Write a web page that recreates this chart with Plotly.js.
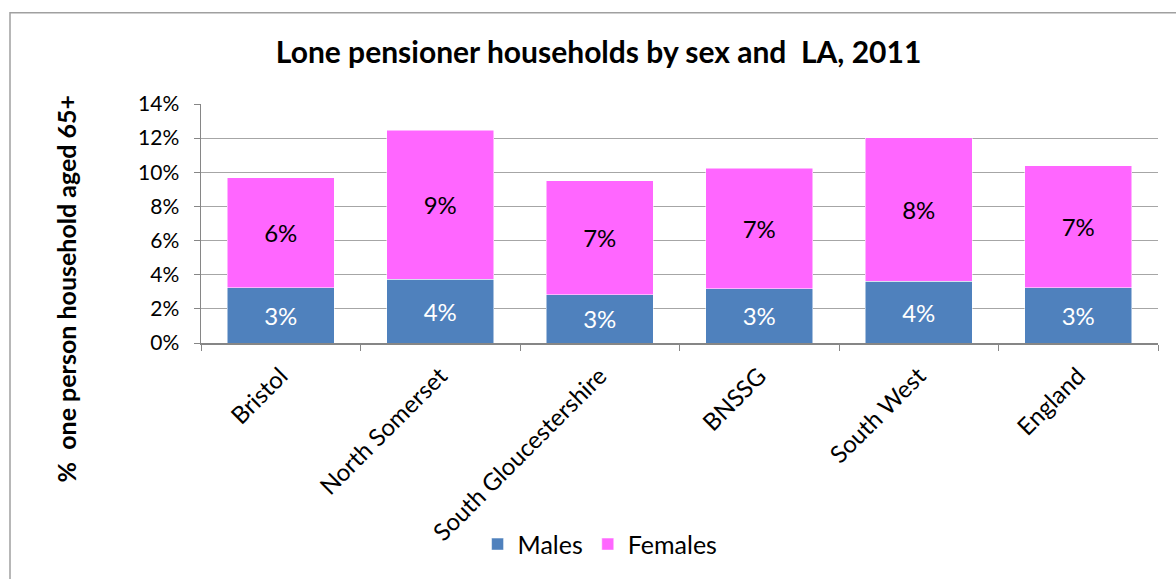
<!DOCTYPE html>
<html>
<head>
<meta charset="utf-8">
<script src="https://cdn.plot.ly/plotly-3.0.1.min.js"></script>
<style>
  html, body { margin: 0; padding: 0; background: #ffffff; }
  #chart { width: 1176px; height: 579px; }
</style>
</head>
<body>
<div id="chart"></div>
<script>
const categories = ["Bristol", "North Somerset", "South Gloucestershire", "BNSSG", "South West", "England"];
const males = [0.0324, 0.0374, 0.0284, 0.0319, 0.0362, 0.0324];
const females = [0.0645, 0.0872, 0.0665, 0.0705, 0.0840, 0.0714];
const yTickVals = [0, 0.02, 0.04, 0.06, 0.08, 0.10, 0.12, 0.14];

const FONT = "Lato, Calibri, Carlito, sans-serif";
const MALE_COLOR = "#4F81BD";
const FEMALE_COLOR = "#FF66FF";

const traces = [
  {
    type: "bar", name: "Males", x: categories, y: males,
    marker: { color: MALE_COLOR, line: { color: "#ffffff", width: 0.5 } },
    texttemplate: "%{y:.0%}", textposition: "inside", insidetextanchor: "middle",
    textfont: { family: FONT, size: 24, color: "#ffffff" },
    hoverinfo: "skip"
  },
  {
    type: "bar", name: "Females", x: categories, y: females,
    marker: { color: FEMALE_COLOR, line: { color: "#ffffff", width: 0.5 } },
    texttemplate: "%{y:.0%}", textposition: "inside", insidetextanchor: "middle",
    textfont: { family: FONT, size: 24, color: "#000000" },
    hoverinfo: "skip"
  }
];

const layout = {
  width: 1176, height: 579,
  margin: { l: 201, r: 18, t: 104, b: 234, pad: 0 },
  paper_bgcolor: "#ffffff", plot_bgcolor: "#ffffff",
  font: { family: FONT, size: 20, color: "#000000" },
  barmode: "stack", bargap: 0.33,
  showlegend: true,
  title: {
    text: "<b>Lone pensioner households by sex and  LA, 2011</b>",
    font: { family: FONT, size: 30, color: "#000000" },
    xref: "container", x: 0.509, xanchor: "center",
    yref: "container", y: 1 - 52 / 579, yanchor: "middle"
  },
  xaxis: {
    type: "category", tickangle: -45,
    tickfont: { family: FONT, size: 24, color: "#000000" },
    showline: true, linecolor: "#868686", linewidth: 1.5,
    ticks: "outside", tickson: "boundaries", ticklen: 6, tickcolor: "#868686",
    ticklabelstandoff: 8,
    showgrid: false, fixedrange: true
  },
  yaxis: {
    range: [0, 0.14], tickvals: yTickVals, tickformat: ".0%",
    tickfont: { family: FONT, size: 21, color: "#000000" },
    showline: true, linecolor: "#868686", linewidth: 1.5,
    ticks: "outside", ticklen: 6, tickcolor: "#868686",
    ticklabelstandoff: 10,
    showgrid: true, gridcolor: "#A6A6A6", gridwidth: 1,
    zeroline: false, fixedrange: true
  },
  legend: {
    orientation: "h", x: 0.417, xanchor: "center", y: (345 - 548) / 241, yanchor: "middle",
    font: { family: FONT, size: 25, color: "#000000" },
    traceorder: "normal", itemclick: false
  },
  annotations: [
    {
      text: "<b>%  one person household aged 65+</b>",
      textangle: -90, xref: "paper", yref: "paper",
      x: (66 - 201) / 957, y: (345 - 290) / 241,
      xanchor: "center", yanchor: "middle", showarrow: false,
      font: { family: FONT, size: 25, color: "#000000" }
    }
  ],
  shapes: [
    {
      type: "rect", xref: "paper", yref: "paper",
      x0: (10 - 201) / 957, x1: (1190 - 201) / 957,
      y0: (345 - 600) / 241, y1: (345 - 12) / 241,
      line: { color: "#A0A0A0", width: 1.5 }, fillcolor: "rgba(0,0,0,0)"
    }
  ]
};

Plotly.newPlot("chart", traces, layout, { displayModeBar: false, staticPlot: true });
</script>
</body>
</html>
